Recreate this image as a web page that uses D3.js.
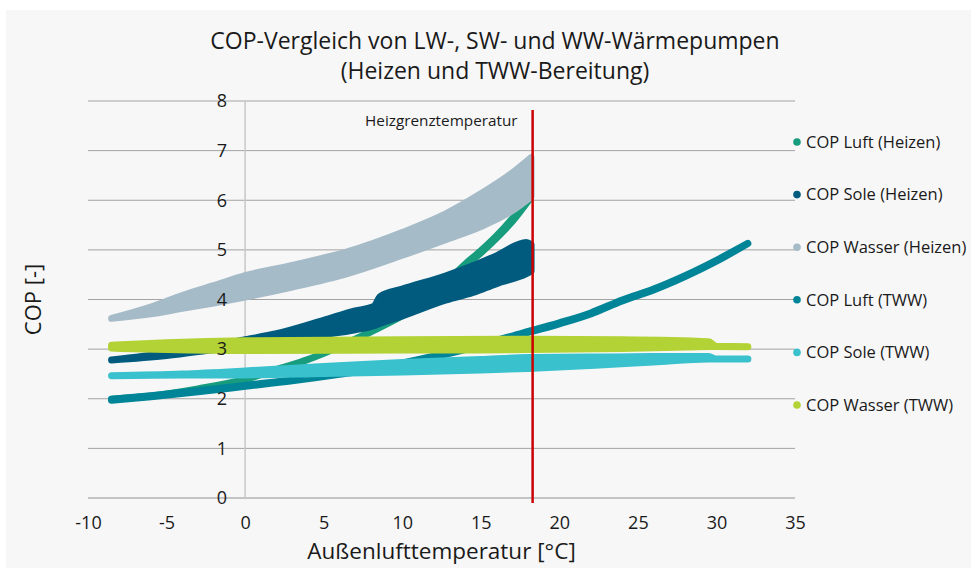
<!DOCTYPE html>
<html>
<head>
<meta charset="utf-8">
<script src="https://cdn.jsdelivr.net/npm/d3@7"></script>
<style>
body { margin: 0; background: #fff; }
text { font-family: "Open Sans", sans-serif; fill: #1a1a1a; }
</style>
</head>
<body>
<script>
var w = 971;
var h = 568;

// x-values, tick labels
var xTicks = [-10, -5, 0, 5, 10, 15, 20, 25, 30, 35];
var yTicks = [0, 1, 2, 3, 4, 5, 6, 7, 8];
var heizgrenze = 18.3;

var seriesNames = ["COP Luft (Heizen)", "COP Sole (Heizen)", "COP Wasser (Heizen)",
                   "COP Luft (TWW)", "COP Sole (TWW)", "COP Wasser (TWW)"];
var colors = ["#179c7d", "#005b7f", "#a6bbc8", "#008598", "#39c1cd", "#b2d235"];

// each row: [temperature, lower COP, upper COP] of the point cloud
var luftHeizen = [[-8.5,1.93,2.05],[-6,1.99,2.12],[-3,2.13,2.27],[0,2.32,2.46],[2,2.52,2.66],
  [4,2.72,2.86],[6,2.98,3.12],[8,3.28,3.42],[10,3.6,3.76],[12,4.02,4.18],[14,4.6,4.78],
  [15,4.87,5.05],[16,5.17,5.35],[17,5.5,5.7],[18.1,5.95,6.15]];
var soleHeizen = [[-8.5,2.71,2.85],[-5,2.8,2.99],[-2,2.92,3.14],[0,3.0,3.26],[2,3.08,3.38],
  [5,3.22,3.65],[7,3.32,3.84],[8.2,3.4,3.93],[8.6,3.45,4.13],[10,3.6,4.28],[12.8,3.92,4.55],
  [14.5,4.07,4.75],[16,4.25,4.95],[17.9,4.45,5.22],[18.2,4.5,5.18]];
var wasserHeizen = [[-8.5,3.56,3.68],[-6,3.64,3.92],[-4,3.75,4.15],[-2,3.86,4.35],[0,3.98,4.55],
  [3,4.18,4.76],[6.5,4.45,5.03],[10,4.82,5.42],[12.8,5.14,5.8],[15,5.4,6.2],[17,5.72,6.62],
  [18.2,6.0,6.93]];
var luftTWW = [[-8.5,1.9,2.06],[-6,1.97,2.13],[-3,2.07,2.23],[0,2.18,2.34],[3,2.29,2.45],
  [6,2.42,2.58],[9,2.57,2.73],[12,2.77,2.93],[15,3.0,3.16],[17.5,3.22,3.38],[20,3.44,3.6],
  [22,3.64,3.8],[24,3.9,4.06],[26,4.12,4.28],[28,4.39,4.55],[30,4.7,4.86],[32,5.06,5.2]];
var soleTWW = [[-8.5,2.4,2.53],[-4,2.41,2.57],[0,2.41,2.63],[5,2.44,2.72],[10,2.47,2.8],
  [15,2.51,2.86],[18,2.54,2.9],[22,2.6,2.91],[26,2.67,2.92],[29.5,2.73,2.92],[30,2.75,2.85],
  [32,2.76,2.84]];
var wasserTWW = [[-8.5,2.95,3.15],[-5,2.92,3.2],[0,2.9,3.24],[10,2.91,3.26],[18,2.92,3.27],
  [24,2.94,3.26],[29.5,2.98,3.22],[30,3.0,3.11],[32,3.0,3.1]];

var allSeries = [luftHeizen, soleHeizen, wasserHeizen, luftTWW, soleTWW, wasserTWW];

var svg = d3.select("body").append("svg").attr("width", w).attr("height", h);

svg.append("rect").attr("x", 6).attr("y", 10).attr("width", w - 6).attr("height", h - 10)
  .attr("fill", "#f7f7f7");

var x = d3.scaleLinear().domain([-10, 35]).range([88, 795]);
var y = d3.scaleLinear().domain([0, 8]).range([498, 101]);

// horizontal grid
svg.selectAll(".grid").data(yTicks.slice(1)).enter().append("line")
  .attr("x1", x(-10)).attr("x2", x(35))
  .attr("y1", function(d){ return y(d); }).attr("y2", function(d){ return y(d); })
  .attr("stroke", "#a3a3a3").attr("stroke-width", 1);
svg.append("line").attr("x1", x(-10)).attr("x2", x(35)).attr("y1", y(0)).attr("y2", y(0))
  .attr("stroke", "#c4c4c4").attr("stroke-width", 2);
svg.append("line").attr("x1", x(0)).attr("x2", x(0)).attr("y1", y(8)).attr("y2", y(0))
  .attr("stroke", "#c8c8c8").attr("stroke-width", 1.5);

// point clouds as bands
var r = 3.5;
var area = d3.area()
  .x(function(d){ return x(d[0]); })
  .y0(function(d){ var a = y(d[1]), b = y(d[2]); return a - b < 2*r ? (a+b)/2 : a - r; })
  .y1(function(d){ var a = y(d[1]), b = y(d[2]); return a - b < 2*r ? (a+b)/2 : b + r; })
  .curve(d3.curveMonotoneX);

svg.selectAll(".band").data(allSeries).enter().append("path")
  .attr("d", area)
  .attr("fill", function(d,i){ return colors[i]; })
  .attr("stroke", function(d,i){ return colors[i]; })
  .attr("stroke-width", 2*r)
  .attr("stroke-linejoin", "round");

var fmt = function(d){ return String(d); };

// y labels next to the zero line
var yAxis = svg.append("g").attr("transform", "translate(" + x(0) + ",0)")
  .call(d3.axisLeft(y).tickValues(yTicks).tickFormat(fmt).tickSize(0).tickPadding(18));
yAxis.select(".domain").remove();
yAxis.selectAll("text").style("font-size", "18px").attr("fill", "#1a1a1a");

var xAxis = svg.append("g").attr("transform", "translate(0," + y(0) + ")")
  .call(d3.axisBottom(x).tickValues(xTicks).tickFormat(fmt).tickSize(0).tickPadding(18));
xAxis.select(".domain").remove();
xAxis.selectAll("text").style("font-size", "18px").attr("fill", "#1a1a1a");

// Heizgrenze
svg.append("line").attr("x1", x(heizgrenze)).attr("x2", x(heizgrenze))
  .attr("y1", 110).attr("y2", 503)
  .attr("stroke", "#cc0000").attr("stroke-width", 2.5);
svg.append("text").attr("x", x(heizgrenze) - 15).attr("y", 126)
  .attr("text-anchor", "end").style("font-size", "15.3px").text("Heizgrenztemperatur");

// titles
svg.append("text").attr("x", 495).attr("y", 49).attr("text-anchor", "middle")
  .style("font-size", "23px").text("COP-Vergleich von LW-, SW- und WW-Wärmepumpen");
svg.append("text").attr("x", 495).attr("y", 79).attr("text-anchor", "middle")
  .style("font-size", "23px").text("(Heizen und TWW-Bereitung)");

svg.append("text").attr("x", 441.5).attr("y", 559).attr("text-anchor", "middle")
  .style("font-size", "22.5px").text("Außenlufttemperatur [°C]");
svg.append("text").attr("transform", "translate(41,299.5) rotate(-90)")
  .attr("text-anchor", "middle").style("font-size", "22px").text("COP [-]");

// legend
var legend = svg.selectAll(".leg").data(seriesNames).enter().append("g")
  .attr("transform", function(d,i){ return "translate(797," + (142 + i*52.6) + ")"; });
legend.append("circle").attr("r", 3.8).attr("fill", function(d,i){ return colors[i]; });
legend.append("text").attr("x", 9).attr("dy", "0.35em").style("font-size", "16.5px")
  .text(function(d){ return d; });
</script>
</body>
</html>
